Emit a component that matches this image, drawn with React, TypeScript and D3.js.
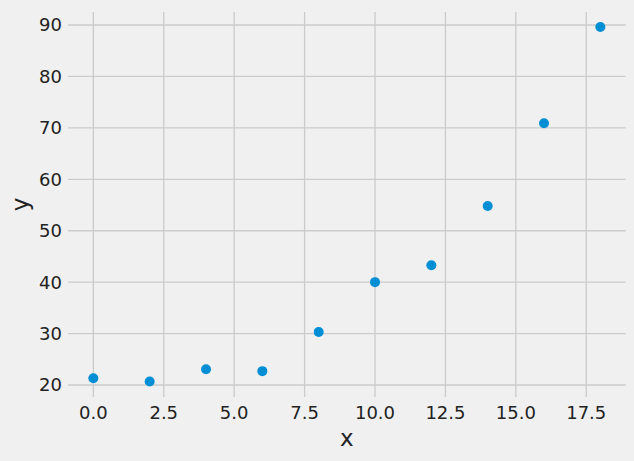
import React from 'react';
import * as d3 from 'd3';

// values
const xValues = [0, 2, 4, 6, 8, 10, 12, 14, 16, 18];
const yValues = [21.3, 20.7, 23.05, 22.7, 30.3, 40.0, 43.3, 54.8, 70.9, 89.6];
const xTicks = [0, 2.5, 5, 7.5, 10, 12.5, 15, 17.5];
const yTicks = [20, 30, 40, 50, 60, 70, 80, 90];

const W = 634;
const H = 461;
const font = 'DejaVu Sans, sans-serif';

const App = () => {
  // axes box, fivethirtyeight-like
  const x = d3.scaleLinear().domain([-0.9, 18.9]).range([68, 625.7]);
  const y = d3.scaleLinear().domain([17.67, 92.53]).range([397, 12]);

  const pts = xValues.map((v, i) => ({ x: v, y: yValues[i] }));

  return (
    <svg
      width={W}
      height={H}
      style={{ position: 'absolute', left: 0, top: 0, background: '#f0f0f0' }}
    >
      <rect width={W} height={H} fill="#f0f0f0" />
      {/* grid */}
      <g stroke="#cbcbcb" strokeWidth={1.3}>
        {xTicks.map((t) => (
          <line key={'gx' + t} x1={x(t)} x2={x(t)} y1={y.range()[1]} y2={y.range()[0]} />
        ))}
        {yTicks.map((t) => (
          <line key={'gy' + t} x1={x.range()[0]} x2={x.range()[1]} y1={y(t)} y2={y(t)} />
        ))}
      </g>
      {/* tick labels */}
      <g fontFamily={font} fontSize={18} fill="#222">
        {xTicks.map((t) => (
          <text key={'tx' + t} x={x(t)} y={419} textAnchor="middle">
            {d3.format('.1f')(t)}
          </text>
        ))}
        {yTicks.map((t) => (
          <text key={'ty' + t} x={62} y={y(t)} dy="0.36em" textAnchor="end">
            {t}
          </text>
        ))}
      </g>
      {/* axis labels */}
      <text x={(x.range()[0] + x.range()[1]) / 2} y={446} textAnchor="middle" fontFamily={font} fontSize={23} fill="#222">
        x
      </text>
      <text
        transform={`translate(28, ${(y.range()[0] + y.range()[1]) / 2}) rotate(-90)`}
        textAnchor="middle"
        fontFamily={font}
        fontSize={23}
        fill="#222"
      >
        y
      </text>
      {/* points */}
      <g fill="#008fd5">
        {pts.map((d, i) => (
          <circle key={i} cx={x(d.x)} cy={y(d.y)} r={5} />
        ))}
      </g>
    </svg>
  );
};

export default App;
